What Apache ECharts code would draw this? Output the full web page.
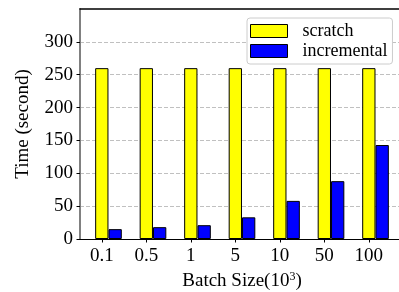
<!DOCTYPE html>
<html>
<head>
<meta charset="utf-8">
<script src="https://cdn.jsdelivr.net/npm/echarts@6/dist/echarts.min.js"></script>
<style>
  html, body { margin: 0; padding: 0; background: #fff; }
  #main { width: 399px; height: 292px; }
</style>
</head>
<body>
<div id="main"></div>
<script>
// batch sizes (x 10^3)
var categories = ['0.1', '0.5', '1', '5', '10', '50', '100'];
var scratch = [260, 260, 260, 260, 260, 260, 260];
var incremental = [15, 18, 21, 33, 58, 88, 143];
var yTicks = [0, 50, 100, 150, 200, 250, 300, 350];

var font = 'Liberation Serif';
var idx = categories.map(function (c, i) { return i; });

var myChart = echarts.init(document.getElementById('main'));
var option = {
    animation: false,
    textStyle: { fontFamily: font, color: '#000' },
    grid: {
        left: 80, top: 9, right: -5, bottom: 53,
        show: false,
        containLabel: false,
        outerBoundsMode: 'none'
    },
    legend: {
        data: ['scratch', 'incremental'],
        orient: 'vertical',
        left: 247, top: 18,
        icon: 'rect',
        itemWidth: 37, itemHeight: 13, itemGap: 2,
        padding: [4, 5, 4, 3],
        backgroundColor: '#fff',
        borderColor: '#ccc', borderWidth: 1, borderRadius: 3,
        itemStyle: { borderColor: '#000', borderWidth: 1 },
        textStyle: { fontFamily: font, fontSize: 18, color: '#000', padding: [0, 0, 0, 10] }
    },
    xAxis: [{
        type: 'value',
        min: -0.49, max: 6.79,
        name: 'Batch Size(10{sup|3})',
        nameLocation: 'middle',
        nameGap: 32,
        nameTextStyle: {
            fontFamily: font, fontSize: 19, color: '#000',
            rich: { sup: { fontFamily: font, fontSize: 12, verticalAlign: 'top', padding: [0, 0, 8, 0] } }
        },
        axisLine: { show: true, onZero: false, lineStyle: { color: '#000', width: 1 } },
        axisTick: { show: true, length: 3.5, lineStyle: { color: '#000' }, customValues: idx },
        axisLabel: {
            customValues: idx,
            margin: 8,
            fontFamily: font, fontSize: 19, color: '#000',
            formatter: function (v) { return categories[Math.round(v)]; }
        },
        splitLine: { show: false }
    }, {
        // top spine only
        type: 'value',
        position: 'top',
        min: -0.49, max: 6.79,
        axisLine: { show: true, onZero: false, lineStyle: { color: '#000', width: 1.5 } },
        axisTick: { show: false },
        axisLabel: { show: false },
        splitLine: { show: false }
    }],
    yAxis: {
        type: 'value',
        min: 0, max: 350, interval: 50,
        name: 'Time (second)',
        nameLocation: 'middle',
        nameGap: 47,
        nameTextStyle: { fontFamily: font, fontSize: 19, color: '#000' },
        axisLine: { show: true, onZero: false, lineStyle: { color: '#808080', width: 2 } },
        axisTick: { show: true, length: 3.5, lineStyle: { color: '#000' } },
        axisLabel: {
            margin: 7, fontFamily: font, fontSize: 19, color: '#000',
            showMaxLabel: false,
            formatter: function (v) { return yTicks.indexOf(v) >= 0 && v < 350 ? String(v) : ''; }
        },
        splitLine: { show: true, showMaxLine: false, showMinLine: false, lineStyle: { color: '#c0c0c0', type: [4, 2], width: 1 } }
    },
    series: [
        {
            name: 'scratch',
            type: 'bar',
            barWidth: 13.3,
            barGap: '-100%',
            itemStyle: { color: '#ffff00', borderColor: '#000', borderWidth: 1 },
            data: scratch.map(function (v, i) { return [i, v]; })
        },
        {
            name: 'incremental',
            type: 'bar',
            barWidth: 13.3,
            barGap: '-100%',
            itemStyle: { color: '#0000ff', borderColor: '#000', borderWidth: 1 },
            data: incremental.map(function (v, i) { return [i + 0.3, v]; })
        }
    ]
};
myChart.setOption(option);
</script>
</body>
</html>
